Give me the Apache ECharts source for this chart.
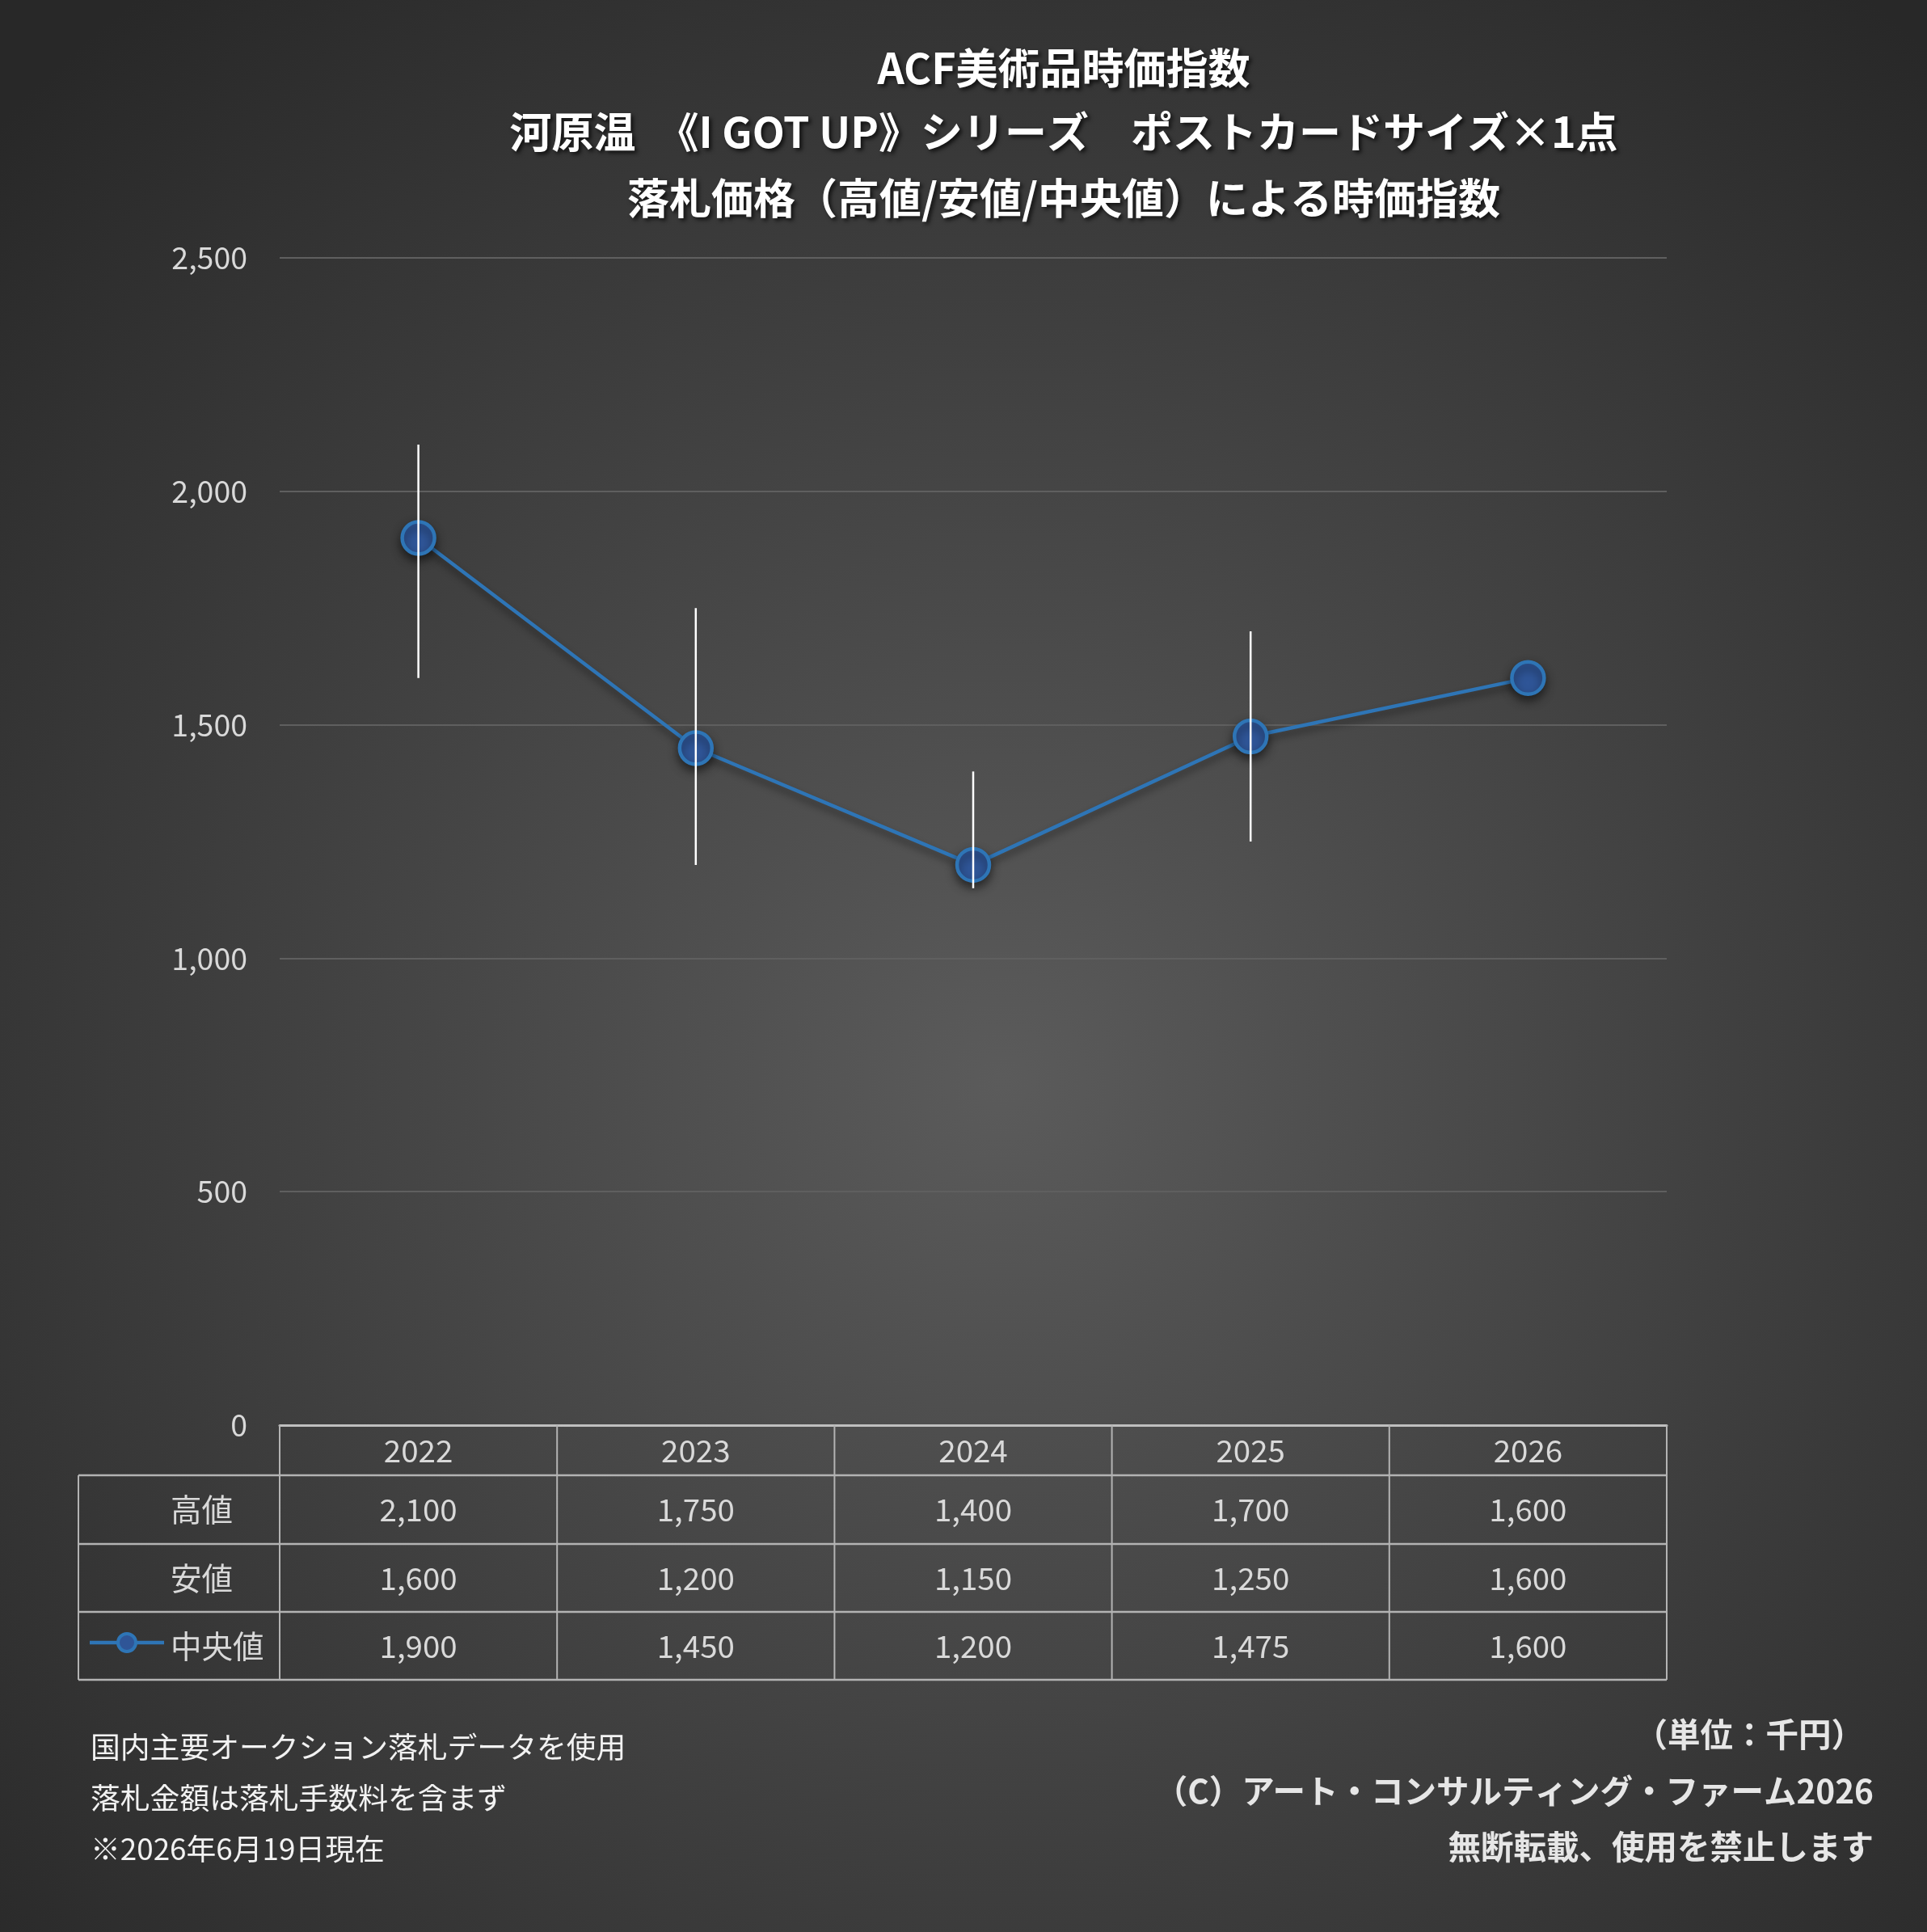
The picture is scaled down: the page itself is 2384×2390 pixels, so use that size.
<!DOCTYPE html>
<html><head><meta charset="utf-8">
<script src="https://cdn.jsdelivr.net/npm/echarts/dist/echarts.min.js"></script>
<style>html,body{margin:0;padding:0;background:#333}#c{width:2384px;height:2390px}</style>
</head><body><div id="c"></div>
<script>
// ---- data ----
const years = ['2022', '2023', '2024', '2025', '2026'];
const highValues = [2100, 1750, 1400, 1700, 1600];
const lowValues = [1600, 1200, 1150, 1250, 1600];
const medianValues = [1900, 1450, 1200, 1475, 1600];
const yTickMin = 0, yTickMax = 2500, yTickStep = 500;
const rowLabels = ['高値', '安値', '中央値'];
const titleLines = [
  'ACF美術品時価指数',
  '河原温　《I GOT UP》シリーズ　ポストカードサイズ×1点',
  '落札価格（高値/安値/中央値）による時価指数'
];
const notesLeft = ['国内主要オークション落札データを使用', '落札金額は落札手数料を含まず', '※2026年6月19日現在'];
const notesRight = ['（単位：千円）', '（C）アート・コンサルティング・ファーム2026', '無断転載、使用を禁止します'];

const FONT = '"Noto Sans CJK JP", "Noto Sans", sans-serif';
const fmt = v => Number(v).toLocaleString('en-US');

const chart = echarts.init(document.getElementById('c'), null, {renderer: 'canvas'});

const option = {
  backgroundColor: new echarts.graphic.RadialGradient(0.52, 0.56, 0.72, [
    {offset: 0, color: '#5b5b5b'},
    {offset: 1, color: '#282828'}
  ]),
  animation: false,
  textStyle: {fontFamily: FONT},
  grid: {left: 346, right: 322, top: 319, bottom: 627, containLabel: false},
  xAxis: {
    type: 'category',
    data: years,
    boundaryGap: true,
    axisLine: {show: true, lineStyle: {color: '#bfbfbf', width: 3}},
    axisTick: {show: false},
    axisLabel: {show: false},
    splitLine: {show: false}
  },
  yAxis: {
    type: 'value',
    min: yTickMin, max: yTickMax, interval: yTickStep,
    axisLine: {show: false},
    axisTick: {show: false},
    axisLabel: {color: '#d9d9d9', fontSize: 37.5, margin: 40, fontFamily: FONT, formatter: v => fmt(v)},
    splitLine: {lineStyle: {color: '#5f5f5f', width: 2}}
  },
  series: [
    {
      type: 'line',
      name: '中央値',
      data: medianValues,
      z: 3,
      symbol: 'circle',
      symbolSize: 40,
      lineStyle: {color: '#2e75b6', width: 4.5, shadowColor: 'rgba(0,0,0,0.45)', shadowBlur: 10, shadowOffsetY: 6},
      itemStyle: {color: '#2f5597', borderColor: '#2e75b6', borderWidth: 4.5, shadowColor: 'rgba(0,0,0,0.5)', shadowBlur: 12, shadowOffsetY: 6}
    },
    {
      type: 'custom',
      name: 'range',
      z: 5,
      data: years.map((y, i) => [i, highValues[i], lowValues[i]]),
      renderItem: function (params, api) {
        const hi = api.coord([api.value(0), api.value(1)]);
        const lo = api.coord([api.value(0), api.value(2)]);
        return {type: 'line', shape: {x1: hi[0], y1: hi[1], x2: lo[0], y2: lo[1]}, style: {stroke: '#ffffff', lineWidth: 2.5}};
      }
    }
  ]
};
chart.setOption(option);

// ---- table & texts built from data ----
const y0 = chart.convertToPixel({yAxisIndex: 0}, 0);
const xLeft = 346, xRight = 2384 - 322, tableLeft = 97;
const colW = (xRight - xLeft) / years.length;
const rowTops = [y0, 1825, 1910, 1994, 2078];
const lineColor = '#b3b3b3';
const g = [];
for (let r = 1; r < rowTops.length; r++) {
  g.push({type: 'line', z: 10, shape: {x1: tableLeft, y1: rowTops[r], x2: xRight, y2: rowTops[r]}, style: {stroke: lineColor, lineWidth: 2.5}});
}
for (let c = 0; c <= years.length; c++) {
  const x = xLeft + c * colW;
  g.push({type: 'line', z: 10, shape: {x1: x, y1: y0, x2: x, y2: rowTops[4]}, style: {stroke: lineColor, lineWidth: 2}});
}
g.push({type: 'line', z: 10, shape: {x1: tableLeft, y1: rowTops[1], x2: tableLeft, y2: rowTops[4]}, style: {stroke: lineColor, lineWidth: 2}});

const cellText = (text, x, y, align) => ({
  type: 'text', z: 11,
  style: {text: text, x: x, y: y, align: align, verticalAlign: 'middle', font: '38.5px ' + FONT, fill: '#d9d9d9'}
});

const rowsData = [highValues, lowValues, medianValues];
years.forEach((yr, i) => {
  const cx = chart.convertToPixel({xAxisIndex: 0}, i);
  g.push(cellText(yr, cx, (rowTops[0] + rowTops[1]) / 2, 'center'));
  rowsData.forEach((arr, r) => {
    g.push(cellText(fmt(arr[i]), cx, (rowTops[r + 1] + rowTops[r + 2]) / 2, 'center'));
  });
});
rowLabels.forEach((lab, r) => {
  const cy = (rowTops[r + 1] + rowTops[r + 2]) / 2;
  g.push({type: 'text', z: 11, style: {text: lab, x: 211, y: cy, align: 'left', verticalAlign: 'middle', font: '38.5px ' + FONT, fill: '#d9d9d9'}});
});
const keyY = (rowTops[3] + rowTops[4]) / 2 - 4;
g.push({type: 'line', z: 11, shape: {x1: 111, y1: keyY, x2: 203, y2: keyY}, style: {stroke: '#2e75b6', lineWidth: 4.5}});
g.push({type: 'circle', z: 12, shape: {cx: 157, cy: keyY, r: 11}, style: {fill: '#2f5597', stroke: '#2e75b6', lineWidth: 4}});

const titleY = [84, 163, 245];
titleLines.forEach((t, i) => {
  g.push({type: 'text', z: 20, style: {
    text: t, x: 1316, y: titleY[i], align: 'center', verticalAlign: 'middle',
    font: 'bold 52px ' + FONT, fill: '#ffffff',
    shadowColor: 'rgba(0,0,0,0.7)', shadowBlur: 5, shadowOffsetX: 3, shadowOffsetY: 3,
    textShadowColor: 'rgba(0,0,0,0.7)', textShadowBlur: 5, textShadowOffsetX: 3, textShadowOffsetY: 3
  }});
});
const leftY = [2161, 2224, 2287];
notesLeft.forEach((t, i) => {
  g.push({type: 'text', z: 20, style: {text: t, x: 112, y: leftY[i], align: 'left', verticalAlign: 'middle', font: '36.8px ' + FONT, fill: '#f2f2f2'}});
});
const rightY = [2146, 2216, 2285];
const rightX = [2306, 2318, 2318];
notesRight.forEach((t, i) => {
  g.push({type: 'text', z: 20, style: {text: t, x: rightX[i], y: rightY[i], align: 'right', verticalAlign: 'middle', font: 'bold 40.5px ' + FONT, fill: '#e6e6e6'}});
});

chart.setOption({graphic: {elements: g}});
</script>
</body></html>
